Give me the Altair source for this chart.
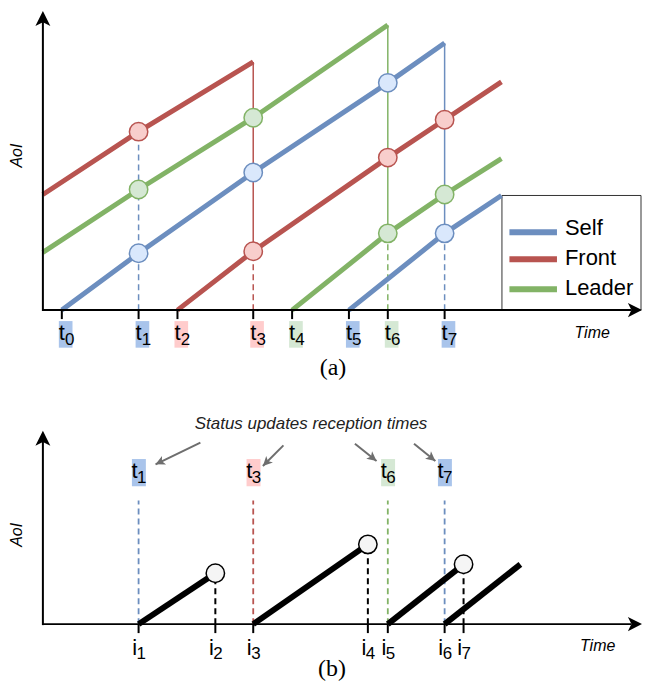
import altair as alt
import numpy as np
import pandas as pd

# ---------------- styles ----------------
SERIES = ["Self", "Front", "Leader"]
LINE_COLORS = ["#6c8ebf", "#b85450", "#82b366"]
CIRCLE_FILLS = ["#dae8fc", "#f8cecc", "#d5e8d4"]
LABEL_FILLS = ["#a9c4eb", "#ffcccc", "#d5e8d4"]
FONT = "Liberation Sans"
SERIF = "Liberation Serif"
UP_ARROW = "M0,0L-1,2L0,1.5L1,2Z"
RIGHT_ARROW = "M0,0L-2,-1L-1.5,0L-2,1Z"

# ---------------- panel (a) data ----------------
A_TICK_NAMES = ["0", "1", "2", "3", "4", "5", "6", "7"]
A_TICK_TIMES = [19, 96, 135, 211, 250, 307, 346, 403]
A_TICK_OWNER = ["Self", "Self", "Front", "Front", "Leader", "Self", "Leader", "Self"]

SEG_SERIES = ["Self", "Self", "Front", "Front", "Leader", "Leader"]
SEG_TIMES = [
    [19, 96, 211, 346, 403],
    [307, 403, 460],
    [0, 96, 211],
    [135, 211, 346, 403, 460],
    [0, 96, 211, 346],
    [250, 346, 403, 460],
]
SEG_AOI = [
    [0, 57, 138, 228, 268],
    [0, 77, 115],
    [116, 179, 249],
    [0, 59, 153, 191, 229],
    [58, 121, 193, 286],
    [0, 77, 116, 152],
]

CIRCLE_TIMES = [96, 96, 96, 211, 211, 211, 346, 346, 346, 403, 403, 403]
CIRCLE_SERIES = ["Front", "Leader", "Self", "Leader", "Self", "Front",
                 "Self", "Front", "Leader", "Front", "Leader", "Self"]
CIRCLE_AOI = [179, 121, 57, 193, 138, 59, 228, 153, 77, 191, 116, 77]

RX_TIMES = [96, 211, 346, 403]
RX_SERIES = ["Self", "Front", "Leader", "Self"]
RX_LOW_AOI = [179, 59, 77, 77]
RX_HIGH_AOI = [179, 249, 286, 268]

LEG_BOX_T = [460.5, 600]
LEG_BOX_A = [0, 115]
LEG_LINE_T = [468, 515.7]
LEG_LINE_A = [78, 51, 21]
LEG_TEXT_T = 523.7
LEG_TEXT_A = [75, 45, 15]

A_Y_TOP = 300
X_END = 601

# ---------------- panel (b) data ----------------
B_TICK_NAMES = ["1", "2", "3", "4", "5", "6", "7"]
B_TICK_TIMES = [96, 173, 211, 326, 346, 403, 422]
B_SEG_START = [96, 211, 346, 403]
B_SEG_END_T = [173, 326, 422, 479]
B_SEG_END_A = [51, 80, 60, 60]
B_CIRCLE_T = [173, 326, 422]
B_CIRCLE_A = [51, 80, 60]
B_RX_NAMES = ["1", "3", "6", "7"]
B_RX_TIMES = [96, 211, 346, 403]
B_RX_SERIES = ["Self", "Front", "Leader", "Self"]
B_RX_TOP = 124
B_RX_LABEL_A = 152
ARROW_T0 = [158, 241.3, 313, 372.3]
ARROW_A0 = [182, 179.3, 181, 181]
ARROW_T1 = [113, 220.7, 334.7, 393.7]
ARROW_A1 = [160.3, 158.7, 163.7, 163.7]
B_Y_TOP = 194

# ---------------- scales ----------------
XS = alt.Scale(domain=[-34, 601], nice=False, zero=False)
YA = alt.Scale(domain=[-71, 301], nice=False, zero=False)
YB = alt.Scale(domain=[-56, 242], nice=False, zero=False)
COL = alt.Scale(domain=SERIES, range=LINE_COLORS)


def X(f):
    return alt.X(f"{f}:Q", scale=XS, axis=None)


def Y(f, s):
    return alt.Y(f"{f}:Q", scale=s, axis=None)


def text_layer(df, s, **kw):
    base = dict(font=FONT, color="black", baseline="alphabetic")
    base.update(kw)
    return alt.Chart(df).mark_text(**base).encode(x=X("t"), y=Y("a", s), text="label:N")


def axes_layers(s, y_top, tick_df):
    yaxis = pd.DataFrame({"t": [0], "a0": [-1], "a1": [y_top - 11]})
    xaxis = pd.DataFrame({"a": [0], "t0": [0], "t1": [X_END - 11]})
    ytip = pd.DataFrame({"t": [0], "a": [y_top]})
    xtip = pd.DataFrame({"t": [X_END], "a": [0]})
    return [
        alt.Chart(yaxis).mark_rule(color="black", strokeWidth=2).encode(
            x=X("t"), y=Y("a0", s), y2="a1:Q"),
        alt.Chart(xaxis).mark_rule(color="black", strokeWidth=2).encode(
            x=X("t0"), x2="t1:Q", y=Y("a", s)),
        alt.Chart(ytip).mark_point(shape=UP_ARROW, size=225, filled=True, color="black",
                                   opacity=1, strokeWidth=0).encode(x=X("t"), y=Y("a", s)),
        alt.Chart(xtip).mark_point(shape=RIGHT_ARROW, size=200, filled=True, color="black",
                                   opacity=1, strokeWidth=0).encode(x=X("t"), y=Y("a", s)),
        alt.Chart(tick_df).mark_rule(color="black", strokeWidth=2, y2Offset=9).encode(
            x=X("t"), y=Y("a", s), y2="a:Q"),
    ]


# ---------------- panel (a) ----------------
line_rows = []
for k, (s_, ts, as_) in enumerate(zip(SEG_SERIES, SEG_TIMES, SEG_AOI)):
    for j, (t, a) in enumerate(zip(ts, as_)):
        line_rows.append({"series": s_, "seg": k, "order": j, "t": t, "a": a})
lines_df = pd.DataFrame(line_rows)

circ_df = pd.DataFrame({"t": CIRCLE_TIMES, "a": CIRCLE_AOI, "series": CIRCLE_SERIES})
rx_df = pd.DataFrame({"t": RX_TIMES, "series": RX_SERIES, "low": RX_LOW_AOI,
                      "high": RX_HIGH_AOI, "zero": [0] * len(RX_TIMES)})
rx_solid = rx_df[rx_df["high"] > rx_df["low"]]
a_ticks = pd.DataFrame({"t": A_TICK_TIMES, "a": [0] * len(A_TICK_TIMES),
                        "label": A_TICK_NAMES, "owner": A_TICK_OWNER})
a_t = a_ticks.assign(label="t")
leg_box = pd.DataFrame({"t0": [LEG_BOX_T[0]], "t1": [LEG_BOX_T[1]],
                        "a0": [LEG_BOX_A[0]], "a1": [LEG_BOX_A[1]]})
leg_lines = pd.DataFrame({"series": SERIES, "t0": [LEG_LINE_T[0]] * 3,
                          "t1": [LEG_LINE_T[1]] * 3, "a": LEG_LINE_A})
leg_text = pd.DataFrame({"label": SERIES, "t": [LEG_TEXT_T] * 3, "a": LEG_TEXT_A})

layers_a = [
    alt.Chart(leg_box).mark_rect(fill="white", stroke="#333333", strokeWidth=1).encode(
        x=X("t0"), x2="t1:Q", y=Y("a0", YA), y2="a1:Q"),
    alt.Chart(rx_df).mark_rule(strokeWidth=1.5, strokeDash=[6, 4]).encode(
        x=X("t"), y=Y("zero", YA), y2="low:Q",
        color=alt.Color("series:N", scale=COL, legend=None)),
    alt.Chart(rx_solid).mark_rule(strokeWidth=1.5).encode(
        x=X("t"), y=Y("low", YA), y2="high:Q",
        color=alt.Color("series:N", scale=COL, legend=None)),
    alt.Chart(lines_df).mark_line(strokeWidth=5, strokeCap="butt").encode(
        x=X("t"), y=Y("a", YA), detail="seg:N", order="order:Q",
        color=alt.Color("series:N", scale=COL, legend=None)),
    alt.Chart(circ_df).mark_circle(size=340, opacity=1, strokeWidth=1.5).encode(
        x=X("t"), y=Y("a", YA),
        fill=alt.Fill("series:N", scale=alt.Scale(domain=SERIES, range=CIRCLE_FILLS), legend=None),
        stroke=alt.Stroke("series:N", scale=alt.Scale(domain=SERIES, range=LINE_COLORS), legend=None)),
] + axes_layers(YA, A_Y_TOP, a_ticks) + [
    alt.Chart(a_ticks).mark_rect(xOffset=-3, x2Offset=10.7, yOffset=11, y2Offset=37.7).encode(
        x=X("t"), x2="t:Q", y=Y("a", YA), y2="a:Q",
        fill=alt.Fill("owner:N", scale=alt.Scale(domain=SERIES, range=LABEL_FILLS), legend=None)),
    text_layer(a_t, YA, fontSize=22, align="center", dy=30),
    text_layer(a_ticks, YA, fontSize=17, align="left", dx=3.2, dy=35),
    alt.Chart(leg_lines).mark_rule(strokeWidth=6).encode(
        x=X("t0"), x2="t1:Q", y=Y("a", YA),
        color=alt.Color("series:N", scale=COL, legend=None)),
    text_layer(leg_text, YA, fontSize=22, align="left"),
    text_layer(pd.DataFrame({"label": ["Time"], "t": [551], "a": [-28]}), YA,
               fontSize=16, fontStyle="italic", align="center"),
    text_layer(pd.DataFrame({"label": ["AoI"], "t": [-26], "a": [155]}), YA,
               fontSize=16, fontStyle="italic", align="center", baseline="middle", angle=270),
    text_layer(pd.DataFrame({"label": ["(a)"], "t": [291], "a": [-58.5]}), YA,
               font=SERIF, fontSize=24, align="center", baseline="middle"),
]

panel_a = alt.layer(*layers_a).resolve_scale(fill="independent").properties(width=635, height=372)

# ---------------- panel (b) ----------------
b_rx = pd.DataFrame({"t": B_RX_TIMES, "series": B_RX_SERIES, "zero": [0] * 4,
                     "top": [B_RX_TOP] * 4, "a": [B_RX_LABEL_A] * 4, "label": B_RX_NAMES})
b_rx_t = b_rx.assign(label="t")
b_seg = pd.DataFrame({"t0": B_SEG_START, "a0": [0] * 4, "t1": B_SEG_END_T, "a1": B_SEG_END_A})
b_circ = pd.DataFrame({"t": B_CIRCLE_T, "a": B_CIRCLE_A, "zero": [0] * 3})
b_ticks = pd.DataFrame({"t": B_TICK_TIMES, "a": [0] * 7, "label": B_TICK_NAMES})
b_i = b_ticks.assign(label="i")
arrows = pd.DataFrame({"t0": ARROW_T0, "a0": ARROW_A0, "t": ARROW_T1, "a": ARROW_A1})
arrows["ang"] = np.degrees(np.arctan2(arrows["t"] - arrows["t0"], arrows["a"] - arrows["a0"])) % 360
GRAY = "#6e6e6e"

layers_b = [
    alt.Chart(b_rx).mark_rule(strokeWidth=1.8, strokeDash=[6, 4]).encode(
        x=X("t"), y=Y("zero", YB), y2="top:Q",
        color=alt.Color("series:N", scale=COL, legend=None)),
    alt.Chart(b_circ).mark_rule(strokeWidth=2, strokeDash=[6, 4], color="black").encode(
        x=X("t"), y=Y("zero", YB), y2="a:Q"),
    alt.Chart(b_seg).mark_rule(strokeWidth=6, color="black", strokeCap="butt").encode(
        x=X("t0"), x2="t1:Q", y=Y("a0", YB), y2="a1:Q"),
    alt.Chart(b_circ).mark_circle(size=340, opacity=1, strokeWidth=1.5, fill="#f5f5f5",
                                  stroke="black").encode(x=X("t"), y=Y("a", YB)),
] + axes_layers(YB, B_Y_TOP, b_ticks) + [
    alt.Chart(b_rx).mark_rect(xOffset=-6.7, x2Offset=7.3, yOffset=-13.6, y2Offset=13.7).encode(
        x=X("t"), x2="t:Q", y=Y("a", YB), y2="a:Q",
        fill=alt.Fill("series:N", scale=alt.Scale(domain=SERIES, range=LABEL_FILLS), legend=None)),
    text_layer(b_rx_t, YB, fontSize=22, align="center", dx=-4, dy=5),
    text_layer(b_rx, YB, fontSize=17, align="left", dx=-1.6, dy=10),
    text_layer(b_i, YB, fontSize=22, align="center", dx=-4, dy=31),
    text_layer(b_ticks, YB, fontSize=17, align="left", dx=-2, dy=35),
    alt.Chart(arrows).mark_rule(strokeWidth=2, color=GRAY).encode(
        x=X("t0"), x2="t:Q", y=Y("a0", YB), y2="a:Q"),
    alt.Chart(arrows).mark_point(shape=UP_ARROW, size=90, filled=True, color=GRAY,
                                 opacity=1, strokeWidth=0).encode(
        x=X("t"), y=Y("a", YB), angle=alt.Angle("ang:Q", scale=None)),
    text_layer(pd.DataFrame({"label": ["Status updates reception times"], "t": [269], "a": [196]}),
               YB, fontSize=17, fontStyle="italic", align="center", color="#222222"),
    text_layer(pd.DataFrame({"label": ["Time"], "t": [556.5], "a": [-27]}), YB,
               fontSize=16, fontStyle="italic", align="center"),
    text_layer(pd.DataFrame({"label": ["AoI"], "t": [-26], "a": [89.5]}), YB,
               fontSize=16, fontStyle="italic", align="center", baseline="middle", angle=270),
    text_layer(pd.DataFrame({"label": ["(b)"], "t": [290], "a": [-45]}), YB,
               font=SERIF, fontSize=24, align="center", baseline="middle"),
]

panel_b = alt.layer(*layers_b).properties(width=635, height=298)

chart = (
    alt.vconcat(panel_a, panel_b, spacing=0)
    .resolve_scale(x="independent", y="independent", color="independent",
                   fill="independent", stroke="independent")
    .properties(padding=0)
    .configure_view(stroke="transparent")
)

chart.save("out.html", embed_options={"renderer": "svg", "actions": False})
